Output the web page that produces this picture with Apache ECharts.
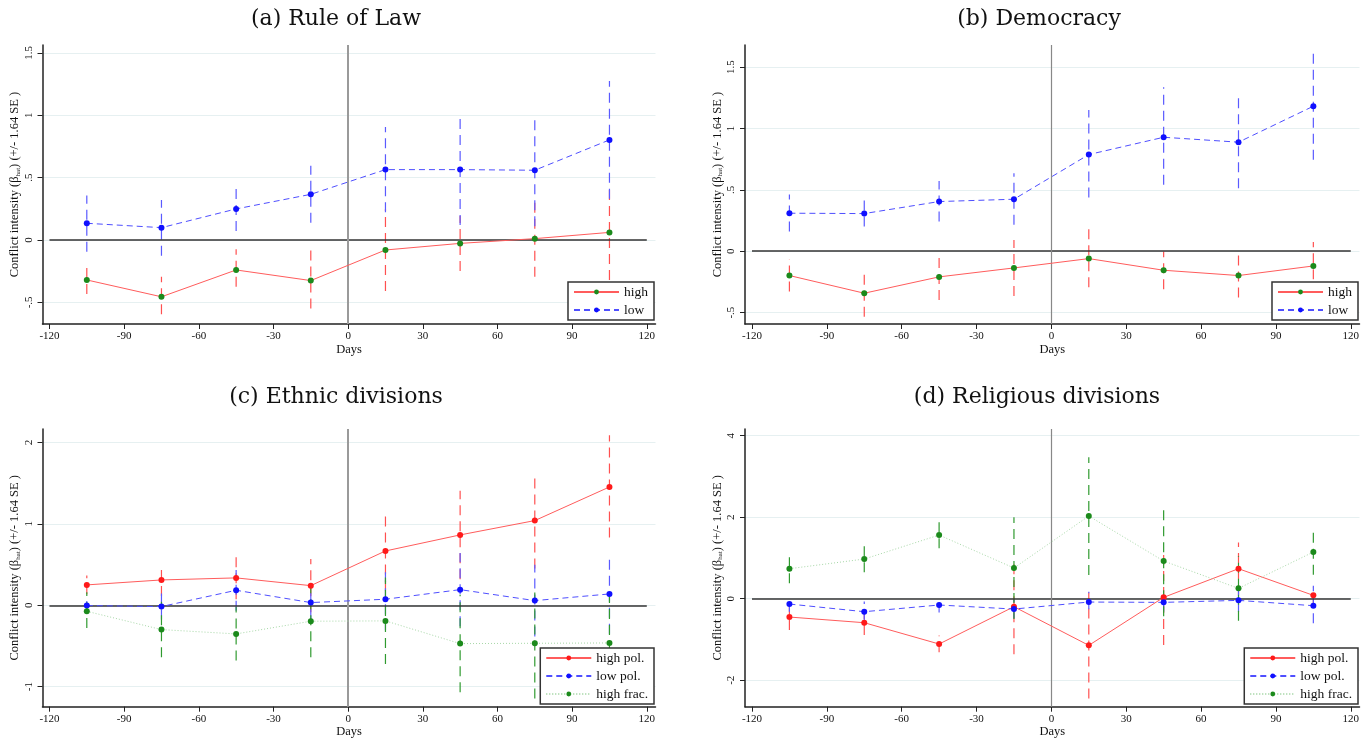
<!DOCTYPE html>
<html><head><meta charset="utf-8">
<script src="https://cdn.jsdelivr.net/npm/echarts@6/dist/echarts.min.js"></script>
<style>html,body{margin:0;padding:0;background:#fff}#c{width:1367px;height:742px}</style>
</head><body><div id="c"></div>
<script>
// ---------- data ----------
const days = [-105, -75, -45, -15, 15, 45, 75, 105];
const xTicks = [-120, -90, -60, -30, 0, 30, 60, 90, 120];

const titles = ['(a) Rule of Law', '(b) Democracy', '(c) Ethnic divisions', '(d) Religious divisions'];
const yTicksA = [-0.5, 0, 0.5, 1, 1.5];
const yTicksB = [-0.5, 0, 0.5, 1, 1.5];
const yTicksC = [-1, 0, 1, 2];
const yTicksD = [-2, 0, 2, 4];

// (a) Rule of Law
const highA    = [-0.32, -0.455, -0.24, -0.325, -0.08, -0.027, 0.011, 0.061];
const highA_lo = [-0.433, -0.594, -0.374, -0.548, -0.409, -0.249, -0.294, -0.32];
const highA_hi = [-0.214, -0.294, -0.075, -0.08, 0.246, 0.193, 0.334, 0.447];
const lowA     = [0.134, 0.099, 0.249, 0.366, 0.564, 0.564, 0.559, 0.802];
const lowA_lo  = [-0.094, -0.126, 0.072, 0.139, 0.222, 0.12, 0.11, 0.33];
const lowA_hi  = [0.356, 0.32, 0.452, 0.594, 0.906, 1.008, 1.008, 1.275];

// (b) Democracy
const highB    = [-0.198, -0.342, -0.209, -0.136, -0.06, -0.155, -0.198, -0.12];
const highB_lo = [-0.329, -0.533, -0.397, -0.364, -0.293, -0.31, -0.378, -0.228];
const highB_hi = [-0.065, -0.147, -0.022, 0.092, 0.179, -0.003, -0.016, 0.076];
const lowB     = [0.31, 0.307, 0.405, 0.424, 0.788, 0.929, 0.889, 1.182];
const lowB_lo  = [0.16, 0.201, 0.242, 0.215, 0.438, 0.541, 0.514, 0.745];
const lowB_hi  = [0.462, 0.427, 0.573, 0.636, 1.152, 1.337, 1.266, 1.62];

// (c) Ethnic divisions
const highPolC    = [0.25, 0.311, 0.336, 0.241, 0.667, 0.864, 1.04, 1.453];
const highPolC_lo = [0.135, 0.115, 0.074, -0.086, 0.18, 0.32, 0.45, 0.831];
const highPolC_hi = [0.364, 0.508, 0.598, 0.569, 1.154, 1.408, 1.629, 2.087];
const lowPolC     = [-0.004, -0.016, 0.184, 0.033, 0.074, 0.192, 0.057, 0.139];
const lowPolC_lo  = [-0.07, -0.176, -0.066, -0.17, -0.306, -0.258, -0.383, -0.351];
const lowPolC_hi  = [0.065, 0.144, 0.434, 0.23, 0.454, 0.642, 0.497, 0.629];
const highFracC    = [-0.074, -0.299, -0.352, -0.196, -0.192, -0.471, -0.467, -0.463];
const highFracC_lo = [-0.28, -0.64, -0.68, -0.64, -0.72, -1.07, -1.146, -1.15];
const highFracC_hi = [0.16, 0.042, -0.02, 0.25, 0.34, 0.13, 0.21, 0.22];

// (d) Religious divisions
const highPolD    = [-0.45, -0.589, -1.112, -0.196, -1.145, 0.033, 0.736, 0.082];
const highPolD_lo = [-0.769, -0.89, -1.317, -1.366, -2.446, -1.137, 0.09, -0.12];
const highPolD_hi = [-0.13, -0.29, -0.9, 0.97, 0.155, 1.2, 1.38, 0.28];
const lowPolD     = [-0.131, -0.319, -0.155, -0.254, -0.082, -0.09, -0.041, -0.172];
const lowPolD_lo  = [-0.32, -0.52, -0.34, -0.48, -0.26, -0.32, -0.32, -0.6];
const lowPolD_hi  = [0.05, -0.07, 0.05, -0.03, 0.17, 0.09, 0.21, 0.32];
const highFracD    = [0.736, 0.973, 1.562, 0.753, 2.029, 0.924, 0.254, 1.145];
const highFracD_lo = [0.38, 0.646, 1.235, -0.5, 0.58, -0.43, -0.54, 0.59];
const highFracD_hi = [1.11, 1.3, 1.9, 2.0, 3.47, 2.27, 1.05, 1.75];

// ---------- styling / layout ----------
const SERIF = '"Liberation Serif", "DejaVu Serif", serif';
const RED_L = '#ff5c5c', RED_M = '#ff1a1a', RED_E = '#ff5050';
const BLUE_L = '#4f4fff', BLUE_M = '#1010ff', BLUE_E = '#5a5aff';
const GREEN_L = '#a8d8a8', GREEN_M = '#1b8a1b', GREEN_E = '#2f9a2f';

const grids = [
  {left: 42.5, top: 45, width: 613, height: 279},
  {left: 745, top: 45, width: 614.5, height: 279},
  {left: 42.5, top: 429, width: 613, height: 277.7},
  {left: 745, top: 429, width: 614.5, height: 277.7}
];
const yRanges = [[-0.673, 1.5625], [-0.593, 1.681], [-1.246, 2.165], [-2.65, 4.164]];
const yTickSets = [yTicksA, yTicksB, yTicksC, yTicksD];
const titlePos = [[331, 3], [1034, 3], [331, 381], [1032, 381]];

function fmtY(v) {
  if (v === 0) return '0';
  const s = String(Math.abs(v)).replace(/^0\./, '.');
  return (v < 0 ? '-' : '') + s;
}

function lineSeries(name, idx, vals, lc, mc, ltype) {
  return {
    type: 'line', name: name, xAxisIndex: idx, yAxisIndex: idx,
    data: days.map((d, i) => [d, vals[i]]),
    symbol: 'circle', symbolSize: 6, showSymbol: true,
    lineStyle: {color: lc, width: 1, type: ltype},
    itemStyle: {color: mc},
    emphasis: {disabled: true},
    animation: false, z: 5
  };
}

function ciSeries(name, idx, lo, hi, color) {
  return {
    type: 'custom', name: name, xAxisIndex: idx, yAxisIndex: idx,
    data: days.map((d, i) => [d, lo[i], hi[i]]),
    encode: {x: 0, y: [1, 2]},
    clip: true, silent: true, animation: false, z: 3,
    renderItem: function (params, api) {
      const p1 = api.coord([api.value(0), api.value(1)]);
      const p2 = api.coord([api.value(0), api.value(2)]);
      return {
        type: 'line',
        shape: {x1: p1[0], y1: p1[1], x2: p2[0], y2: p2[1]},
        style: {stroke: color, lineWidth: 1.2, lineDash: [10, 6]}
      };
    }
  };
}

function refSeries(idx, vColor, vWidth) {
  return {
    type: 'line', name: 'ref' + idx, xAxisIndex: idx, yAxisIndex: idx,
    data: [[0, 0]], symbol: 'none', lineStyle: {opacity: 0}, silent: true,
    animation: false, z: 2,
    markLine: {
      silent: true, symbol: 'none', label: {show: false}, animation: false,
      data: [
        [{coord: [-120, 0]}, {coord: [120, 0], lineStyle: {color: '#333', width: 1.5, type: 'solid'}}],
        {xAxis: 0, lineStyle: {color: vColor, width: vWidth, type: 'solid'}}
      ],
      lineStyle: {color: '#333', width: 1.5, type: 'solid'}
    }
  };
}

const series = [
  refSeries(0, '#9a9a9a', 2), refSeries(1, '#888', 1.2), refSeries(2, '#9a9a9a', 2), refSeries(3, '#888', 1.2),
  // (a)
  ciSeries('ci_a_high', 0, highA_lo, highA_hi, RED_E),
  ciSeries('ci_a_low', 0, lowA_lo, lowA_hi, BLUE_E),
  lineSeries('high', 0, highA, RED_L, GREEN_M, 'solid'),
  lineSeries('low', 0, lowA, BLUE_L, BLUE_M, [6, 4]),
  // (b)
  ciSeries('ci_b_high', 1, highB_lo, highB_hi, RED_E),
  ciSeries('ci_b_low', 1, lowB_lo, lowB_hi, BLUE_E),
  lineSeries('high', 1, highB, RED_L, GREEN_M, 'solid'),
  lineSeries('low', 1, lowB, BLUE_L, BLUE_M, [6, 4]),
  // (c)
  ciSeries('ci_c_hp', 2, highPolC_lo, highPolC_hi, RED_E),
  ciSeries('ci_c_lp', 2, lowPolC_lo, lowPolC_hi, BLUE_E),
  ciSeries('ci_c_hf', 2, highFracC_lo, highFracC_hi, GREEN_E),
  lineSeries('high pol.', 2, highPolC, RED_L, RED_M, 'solid'),
  lineSeries('low pol.', 2, lowPolC, BLUE_L, BLUE_M, [6, 4]),
  lineSeries('high frac.', 2, highFracC, GREEN_L, GREEN_M, [1, 2]),
  // (d)
  ciSeries('ci_d_hp', 3, highPolD_lo, highPolD_hi, RED_E),
  ciSeries('ci_d_lp', 3, lowPolD_lo, lowPolD_hi, BLUE_E),
  ciSeries('ci_d_hf', 3, highFracD_lo, highFracD_hi, GREEN_E),
  lineSeries('high pol.', 3, highPolD, RED_L, RED_M, 'solid'),
  lineSeries('low pol.', 3, lowPolD, BLUE_L, BLUE_M, [6, 4]),
  lineSeries('high frac.', 3, highFracD, GREEN_L, GREEN_M, [1, 2])
];

const xAxes = grids.map((g, i) => ({
  type: 'value', gridIndex: i, min: -122.8, max: 123.5,
  name: 'Days', nameLocation: 'middle', nameGap: 18,
  nameTextStyle: {fontFamily: SERIF, fontSize: 12.5, color: '#111'},
  axisLine: {show: true, onZero: false, lineStyle: {color: '#222', width: 1.5}},
  axisTick: {show: true, length: 5, customValues: xTicks, lineStyle: {color: '#222', width: 1}},
  axisLabel: {customValues: xTicks, fontFamily: SERIF, fontSize: 11, color: '#111', margin: 7},
  splitLine: {show: false}
}));

const yName = 'Conflict intensity (β{s|hat}) (+/- 1.64 SE )';
const yAxes = grids.map((g, i) => ({
  type: 'value', gridIndex: i, min: yRanges[i][0], max: yRanges[i][1],
  name: yName, nameLocation: 'middle', nameGap: 21, nameRotate: 90,
  nameTextStyle: {fontFamily: SERIF, fontSize: 12.5, color: '#111',
    rich: {s: {fontFamily: SERIF, fontSize: 7, color: '#111', verticalAlign: 'bottom', padding: [3, 0, 0, 0]}}},
  axisLine: {show: true, onZero: false, lineStyle: {color: '#222', width: 1.5}},
  axisTick: {show: true, length: 5, customValues: yTickSets[i], lineStyle: {color: '#222', width: 1}},
  axisLabel: {customValues: yTickSets[i], formatter: fmtY, rotate: 90, fontFamily: SERIF, fontSize: 11, color: '#111', margin: 8},
  splitLine: {show: true, lineStyle: {color: '#e6f0f1', width: 1}}
}));

const legendBase = {
  orient: 'vertical', backgroundColor: '#fff', borderColor: '#333', borderWidth: 1.5,
  padding: [3, 6, 3, 5], itemGap: 4, itemWidth: 45, itemHeight: 6,
  lineStyle: {width: 2},
  textStyle: {fontFamily: SERIF, fontSize: 13.5, color: '#111'},
  selectedMode: false, z: 20
};
const legends = [
  Object.assign({}, legendBase, {data: ['high', 'low'], right: 713, top: 282}),
  Object.assign({}, legendBase, {data: ['high', 'low'], right: 9, top: 282}),
  Object.assign({}, legendBase, {data: ['high pol.', 'low pol.', 'high frac.'], right: 713, top: 648}),
  Object.assign({}, legendBase, {data: ['high pol.', 'low pol.', 'high frac.'], right: 9, top: 648})
];

const titleOpts = titles.map((t, i) => ({
  text: t, left: titlePos[i][0], top: titlePos[i][1], textAlign: 'center',
  textStyle: {fontFamily: '"DejaVu Serif", serif', fontWeight: 'normal', fontSize: 22, color: '#111'}
}));

const chart = echarts.init(document.getElementById('c'), null, {renderer: 'canvas'});
chart.setOption({
  backgroundColor: '#fff',
  animation: false,
  title: titleOpts,
  grid: grids,
  xAxis: xAxes,
  yAxis: yAxes,
  legend: legends,
  series: series
});
</script>
</body></html>
